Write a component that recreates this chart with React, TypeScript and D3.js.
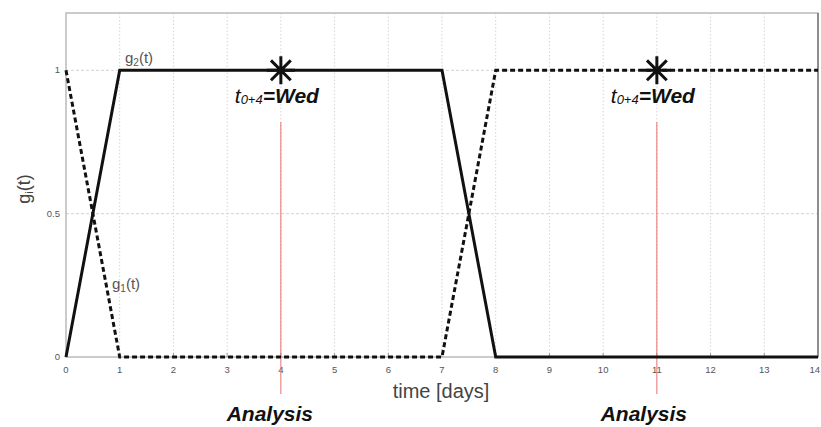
import React from "react";
import * as d3 from "d3";

const days = [0, 1, 2, 3, 4, 5, 6, 7, 8, 9, 10, 11, 12, 13, 14];
const yTicks = [0, 0.5, 1];
const g2Time = [0, 1, 7, 8, 14];
const g2Vals = [0, 1, 1, 0, 0];
const g1Time = [0, 1, 7, 8, 14];
const g1Vals = [1, 0, 0, 1, 1];
const analysisDays = [4, 11];

const W = 821, H = 427;
const M = { left: 66, right: 3, top: 13, bottom: 70 };

export default function App() {
  const x = d3.scaleLinear().domain([0, 14]).range([M.left, W - M.right]);
  const y = d3.scaleLinear().domain([0, 1.2]).range([H - M.bottom, M.top]);
  const line = d3.line<[number, number]>().x(d => x(d[0])).y(d => y(d[1]));
  const g2 = line(g2Time.map((t, i) => [t, g2Vals[i]]))!;
  const g1 = line(g1Time.map((t, i) => [t, g1Vals[i]]))!;
  const font = "Liberation Sans, Arial, sans-serif";
  const star = (cx: number, cy: number, r: number) => {
    const parts: string[] = [];
    for (let k = 0; k < 4; k++) {
      const a = (k * Math.PI) / 4;
      parts.push(`M${cx - r * Math.sin(a)},${cy - r * Math.cos(a)}L${cx + r * Math.sin(a)},${cy + r * Math.cos(a)}`);
    }
    return parts.join("");
  };
  return (
    <svg width={W} height={H} style={{ position: "absolute", left: 0, top: 0, background: "#fff" }} fontFamily={font}>
      {/* grid */}
      {days.slice(1, -1).map(d => (
        <line key={"gx" + d} x1={x(d)} x2={x(d)} y1={y(1.2)} y2={y(0)} stroke="#d4d4d4" strokeWidth={1} strokeDasharray="1.5,2" />
      ))}
      {yTicks.slice(1).map(v => (
        <line key={"gy" + v} x1={x(0)} x2={x(14)} y1={y(v)} y2={y(v)} stroke="#d4d4d4" strokeWidth={1} strokeDasharray="3,2" />
      ))}
      {/* frame */}
      <rect x={x(0)} y={y(1.2)} width={x(14) - x(0)} height={y(0) - y(1.2)} fill="none" stroke="#bbb" strokeWidth={1.5} />
      <line x1={x(14)} x2={x(14)} y1={y(1.2)} y2={y(0)} stroke="#777" strokeWidth={1.5} />
      {/* ticks */}
      {days.map((d, i) => (
        <g key={"tx" + d}>
          <line x1={x(d)} x2={x(d)} y1={y(0)} y2={y(0) - 4} stroke="#999" />
          <text x={i === days.length - 1 ? W - 1 : x(d)} y={y(0) + 16} fontSize={9.5} fill="#555"
            textAnchor={i === days.length - 1 ? "end" : "middle"}>{d}</text>
        </g>
      ))}
      {yTicks.map(v => (
        <text key={"ty" + v} x={x(0) - 6} y={y(v) + 3} fontSize={9.5} fill="#555" textAnchor="end">{v}</text>
      ))}
      {/* red analysis lines */}
      {analysisDays.map(d => (
        <line key={"r" + d} x1={x(d)} x2={x(d)} y1={122} y2={394} stroke="#e87070" strokeWidth={1} />
      ))}
      {/* curves */}
      <path d={g1} fill="none" stroke="#111" strokeWidth={3} strokeDasharray="5,3" />
      <path d={g2} fill="none" stroke="#111" strokeWidth={3} />
      {/* stars */}
      {analysisDays.map(d => (
        <path key={"s" + d} d={star(x(d), y(1), 14)} stroke="#111" strokeWidth={3} fill="none" />
      ))}
      {/* annotations */}
      {analysisDays.map(d => (
        <text key={"t" + d} x={x(d) - 4} y={103} textAnchor="middle" fontStyle="italic" fill="#111">
          <tspan fontSize={21}>t</tspan>
          <tspan fontSize={13} dy={1}>0+4</tspan>
          <tspan fontSize={21} fontWeight="bold" dy={-1}>=Wed</tspan>
        </text>
      ))}
      {analysisDays.map((d, i) => (
        <text key={"a" + d} x={x(d) - (i === 0 ? 11 : 13)} y={421} textAnchor="middle" fontStyle="italic" fontWeight="bold" fontSize={21} fill="#111">Analysis</text>
      ))}
      <text x={125} y={63} fontSize={15} fill="#555">g<tspan fontSize={10} dy={3}>2</tspan><tspan dy={-3}>(t)</tspan></text>
      <text x={112} y={289} fontSize={15} fill="#555">g<tspan fontSize={10} dy={3}>1</tspan><tspan dy={-3}>(t)</tspan></text>
      {/* axis labels */}
      <text x={441} y={398} fontSize={20} fill="#444" textAnchor="middle">time [days]</text>
      <text transform={`translate(30,189) rotate(-90)`} fontSize={18} fill="#444" textAnchor="middle">g<tspan fontSize={11} dy={3}>i</tspan><tspan dy={-3}>(t)</tspan></text>
    </svg>
  );
}
